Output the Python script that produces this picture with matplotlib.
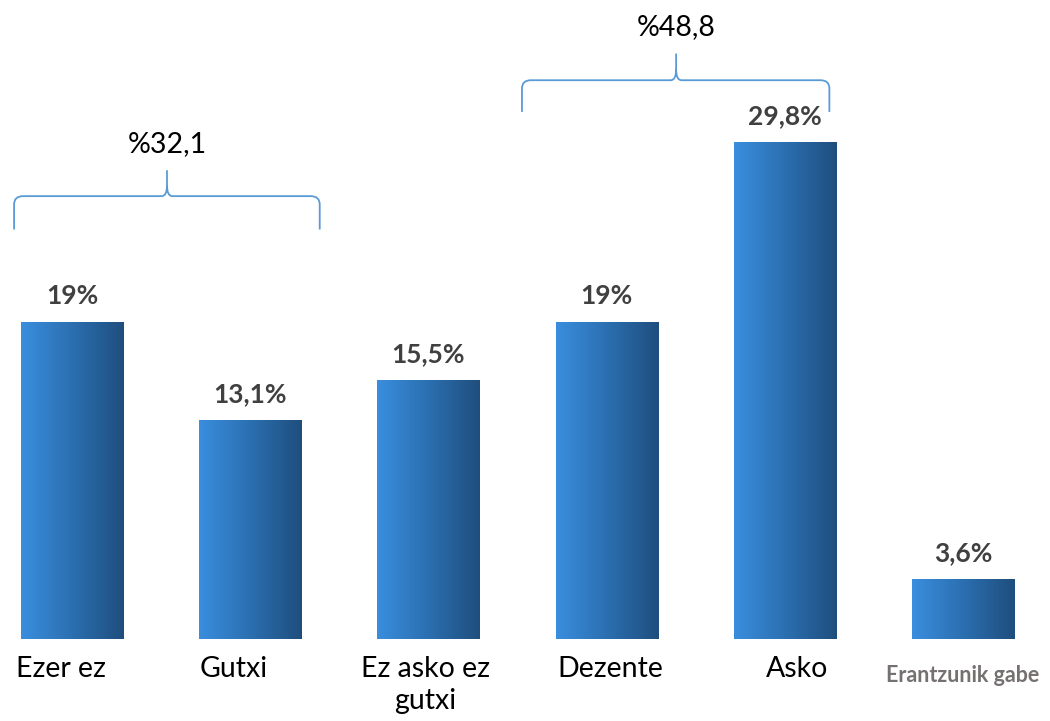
import numpy as np
import matplotlib
matplotlib.use("Agg")
import matplotlib.pyplot as plt
from matplotlib.path import Path
from matplotlib.patches import PathPatch
from matplotlib.colors import LinearSegmentedColormap

categories = ["Ezer ez", "Gutxi", "Ez asko ez\ngutxi", "Dezente", "Asko", "Erantzunik gabe"]
values = [19.0, 13.1, 15.5, 19.0, 29.8, 3.6]
value_labels = ["19%", "13,1%", "15,5%", "19%", "29,8%", "3,6%"]
group_labels = ["%32,1", "%48,8"]

FONT = ["Lato", "DejaVu Sans"]

fig = plt.figure(figsize=(10.5, 7.21), dpi=100)
ax = fig.add_axes([0, 0, 1, 1])
ax.set_xlim(-0.404, 5.488)
ax.set_ylim(-4.92, 38.31)
ax.axis("off")

x = np.arange(len(categories))
bars = ax.bar(x, values, width=0.573, color="none", edgecolor="none")

cmap = LinearSegmentedColormap.from_list("g", ["#3A8EDE", "#2B6FB0", "#1F4E7D"])
grad = np.linspace(0, 1, 256).reshape(1, -1)
for b in bars:
    x0, y0 = b.get_x(), b.get_y()
    w, h = b.get_width(), b.get_height()
    im = ax.imshow(grad, cmap=cmap, aspect="auto", extent=[x0, x0 + w, y0, y0 + h],
                   interpolation="bilinear", zorder=2)
    im.set_clip_path(b)

for xi, v, lab in zip(x, values, value_labels):
    ax.annotate(lab, (xi, v), xytext=(0, 13), textcoords="offset points",
                ha="center", va="baseline", fontsize=19, fontweight="bold",
                color="#404040", family=FONT)

# horizontal label offsets in points (layout only)
cat_dx = [-8, -12, -2, 3, 9]
for xi, cat, dx in zip(x[:-1], categories[:-1], cat_dx):
    ax.annotate(cat, (xi, 0), xytext=(dx, -12), textcoords="offset points",
                ha="center", va="top", fontsize=20.5, color="black", family=FONT,
                linespacing=1.3)
ax.annotate(categories[-1], (x[-1], 0), xytext=(0, -19), textcoords="offset points",
            ha="center", va="top", fontsize=15.5, fontweight="bold", color="#767171",
            family=FONT)

# braces (layout in data units)
brace_specs = [
    dict(x0=-0.325, x1=1.39, xc=0.533, yb=24.55, yl=26.55, yt=28.1),
    dict(x0=2.525, x1=4.25, xc=3.39, yb=31.6, yl=33.5, yt=35.1),
]

def brace(spec):
    x0, x1, xc = spec["x0"], spec["x1"], spec["xc"]
    yb, yl, yt = spec["yb"], spec["yl"], spec["yt"]
    rx, ry = 0.05, 0.5
    cx, cy = 0.03, 0.65
    verts = [
        (x0, yb), (x0, yl - ry),
        (x0, yl), (x0 + rx, yl),
        (xc - cx, yl),
        (xc, yl), (xc, yl + cy),
        (xc, yt),
        (xc, yl + cy),
        (xc, yl), (xc + cx, yl),
        (x1 - rx, yl),
        (x1, yl), (x1, yl - ry),
        (x1, yb),
    ]
    codes = [Path.MOVETO, Path.LINETO,
             Path.CURVE3, Path.CURVE3,
             Path.LINETO,
             Path.CURVE3, Path.CURVE3,
             Path.LINETO,
             Path.MOVETO,
             Path.CURVE3, Path.CURVE3,
             Path.LINETO,
             Path.CURVE3, Path.CURVE3,
             Path.LINETO]
    return Path(verts, codes)

for spec, glab in zip(brace_specs, group_labels):
    ax.add_patch(PathPatch(brace(spec), facecolor="none", edgecolor="#5B9BD5", lw=1.3,
                           capstyle="butt"))
    ax.annotate(glab, (spec["xc"], spec["yt"]), xytext=(0, 13), textcoords="offset points",
                ha="center", va="baseline", fontsize=20.5, color="black", family=FONT)

fig.savefig("out.png", dpi=100, facecolor="white")
